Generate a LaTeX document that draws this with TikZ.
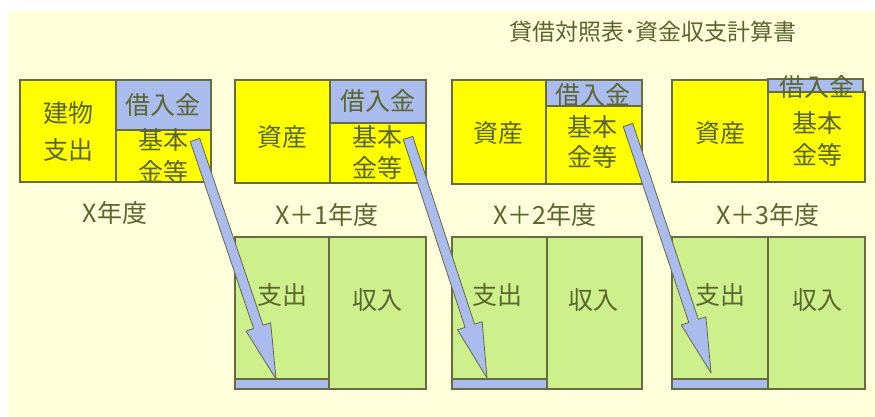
\documentclass[tikz,border=0pt]{standalone}
\usepackage{fontspec}
\newfontfamily\jpfont{Noto Sans CJK JP}
\usetikzlibrary{calc}
\definecolor{creamcol}{HTML}{FFFFDC}
\definecolor{yelcol}{HTML}{FFFF00}
\definecolor{blucol}{HTML}{AABBEE}
\definecolor{grncol}{HTML}{CDF08C}
\definecolor{bordercol}{HTML}{666B40}
\definecolor{txtcol}{HTML}{5A6530}
\tikzset{
  bx/.style={draw=bordercol, line width=1.2pt, anchor=north west, inner sep=0pt, outer sep=0pt},
  yel/.style={bx, fill=yelcol},
  blu/.style={bx, fill=blucol},
  grn/.style={bx, fill=grncol},
  lbl/.style={text=txtcol, font=\jpfont\fontsize{25}{31}\selectfont, align=center, inner sep=0pt},
  fatarrow/.style={draw=bordercol, fill=blucol, line width=0.8pt, line join=round}
}
\newcommand{\fatarr}[2]{%
  \path ($(#2)!55pt!(#1)$) coordinate (hb);
  \draw[fatarrow] ($(#1)!5pt!90:(#2)$) -- ($(hb)!5pt!90:(#2)$) -- ($(hb)!13pt!90:(#2)$)
    -- (#2) -- ($(hb)!13pt!-90:(#2)$) -- ($(hb)!5pt!-90:(#2)$) -- ($(#1)!5pt!-90:(#2)$) -- cycle;
}
\begin{document}
\begin{tikzpicture}[x=1pt, y=-1pt]
\useasboundingbox (0,0) rectangle (875,417);
\fill[white] (0,0) rectangle (875,417);
\fill[creamcol] (7,11) rectangle (875,417);

% title
\node[lbl, font=\jpfont\fontsize{23}{28}\selectfont] (title) at (653,32) {貸借対照表･資金収支計算書};

% balance sheets
\node[yel, minimum width=96pt, minimum height=102pt] (a1) at (20,80) {};
\node[blu, minimum width=95pt, minimum height=50pt] (b1) at (116,80) {};
\node[yel, minimum width=95pt, minimum height=52pt] (c1) at (116,130) {};

\node[yel, minimum width=95pt, minimum height=103pt] (a2) at (235,80) {};
\node[blu, minimum width=96pt, minimum height=43pt] (b2) at (330,80) {};
\node[yel, minimum width=96pt, minimum height=60pt] (c2) at (330,123) {};

\node[yel, minimum width=94pt, minimum height=104pt] (a3) at (452,80) {};
\node[blu, minimum width=96pt, minimum height=26pt] (b3) at (546,80) {};
\node[yel, minimum width=96pt, minimum height=78pt] (c3) at (546,106) {};

\node[yel, minimum width=96pt, minimum height=102pt] (a4) at (672,80) {};
\node[blu, minimum width=95pt, minimum height=13pt] (b4) at (768,79) {};
\node[yel, minimum width=97pt, minimum height=90pt] (c4) at (768,92) {};

% cash flow statements
\node[grn, minimum width=94pt, minimum height=152pt] (s2) at (235,237) {};
\node[grn, minimum width=97pt, minimum height=152pt] (r2) at (329,237) {};
\node[blu, minimum width=94pt, minimum height=10pt] (d2) at (235,379) {};

\node[grn, minimum width=95pt, minimum height=152pt] (s3) at (452,237) {};
\node[grn, minimum width=95pt, minimum height=152pt] (r3) at (547,237) {};
\node[blu, minimum width=95pt, minimum height=10pt] (d3) at (452,379) {};

\node[grn, minimum width=96pt, minimum height=152pt] (s4) at (672,237) {};
\node[grn, minimum width=97pt, minimum height=152pt] (r4) at (768,237) {};
\node[blu, minimum width=96pt, minimum height=10pt] (d4) at (672,379) {};

% texts in balance sheets
\node[lbl, font=\jpfont\fontsize{25}{37}\selectfont] (ta1) at (68,131.5) {建物\\支出};
\node[lbl] (tb1) at (163,105) {借入金};
\node[lbl, font=\jpfont\fontsize{25}{32}\selectfont] (tc1) at (163,156) {基本\\金等};

\node[lbl] (ta2) at (282,137) {資産};
\node[lbl] (tb2) at (378,101) {借入金};
\node[lbl] (tc2) at (377,152.5) {基本\\金等};

\node[lbl] (ta3) at (498,133) {資産};
\node[lbl] (tb3) at (593,95) {借入金};
\node[lbl, font=\jpfont\fontsize{25}{30}\selectfont] (tc3) at (592,142) {基本\\金等};

\node[lbl] (ta4) at (720,133) {資産};
\node[lbl] (tb4) at (817,87) {借入金};
\node[lbl, font=\jpfont\fontsize{25}{32}\selectfont] (tc4) at (817,139) {基本\\金等};

% year labels
\node[lbl] (y1) at (115,213) {X年度};
\node[lbl] (y2) at (327,215) {X＋1年度};
\node[lbl] (y3) at (545,215) {X＋2年度};
\node[lbl] (y4) at (768,215) {X＋3年度};

% texts in cash flow
\node[lbl] (ts2) at (282,295) {支出};
\node[lbl] (tr2) at (377,300) {収入};
\node[lbl] (ts3) at (497,295) {支出};
\node[lbl] (tr3) at (593,300) {収入};
\node[lbl] (ts4) at (720,295) {支出};
\node[lbl] (tr4) at (817,300) {収入};

% arrows
\coordinate (t1) at (195,140); \coordinate (p1) at (276,379);
\coordinate (t2) at (408,138); \coordinate (p2) at (487,378);
\coordinate (t3) at (628,125); \coordinate (p3) at (711,373);
\fatarr{t1}{p1}
\fatarr{t2}{p2}
\fatarr{t3}{p3}
\end{tikzpicture}
\end{document}
